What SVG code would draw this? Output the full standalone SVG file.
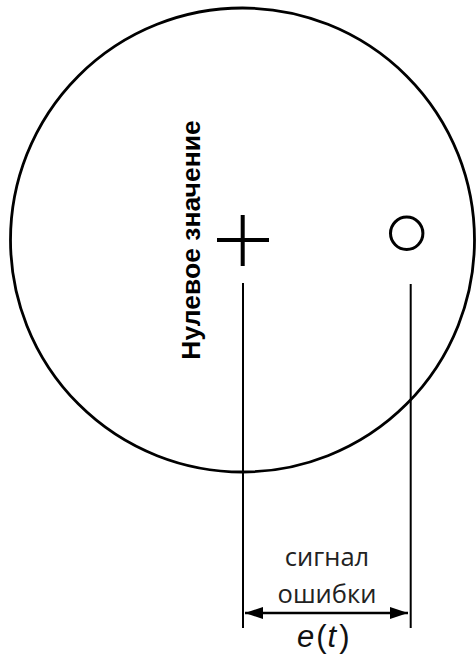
<svg xmlns="http://www.w3.org/2000/svg" width="476" height="659" viewBox="0 0 476 659">
<style>
.ln{stroke:#000;fill:none}
.lbl{font-family:"Open Sans","Liberation Sans",sans-serif;font-size:25.5px;fill:#222;text-anchor:middle}
.rot{font-family:"Liberation Sans",Arial,sans-serif;font-size:26.5px;font-weight:bold;fill:#000;text-anchor:middle}
.et{font-family:"Liberation Sans",Arial,sans-serif;font-size:31px;fill:#111}
</style>
<defs>
<marker id="ah" viewBox="0 0 18 12" refX="18" refY="6" markerWidth="18" markerHeight="12" markerUnits="userSpaceOnUse" orient="auto-start-reverse">
<path d="M0,0 L18,6 L0,12 Z" fill="#000"/>
</marker>
</defs>
<g id="field">
<circle class="ln" cx="242.5" cy="240" r="232" stroke-width="2.8"/>
<text class="rot" transform="translate(199.5,240) rotate(-90)">Нулевое значение</text>
</g>
<g id="zero">
<path class="ln" d="M217,240 H269 M242.7,215 V266" stroke-width="4"/>
</g>
<g id="actual">
<circle class="ln" cx="406.7" cy="233.3" r="16.2" stroke-width="3"/>
</g>
<g id="connectors">
<line class="ln" x1="243" y1="283" x2="243" y2="628" stroke-width="2"/>
<line class="ln" x1="410.7" y1="284" x2="410.7" y2="628" stroke-width="2"/>
<line class="ln" x1="245" y1="613" x2="408" y2="613" stroke-width="2.5" marker-start="url(#ah)" marker-end="url(#ah)"/>
</g>
<g id="error-label">
<text class="lbl" x="327" y="566">сигнал</text>
<text class="lbl" x="327" y="602.5">ошибки</text>
<text class="et" x="297" y="647"><tspan font-style="italic">e</tspan><tspan dx="2">(</tspan><tspan font-style="italic" dx="1">t</tspan><tspan dx="3">)</tspan></text>
</g>
</svg>
